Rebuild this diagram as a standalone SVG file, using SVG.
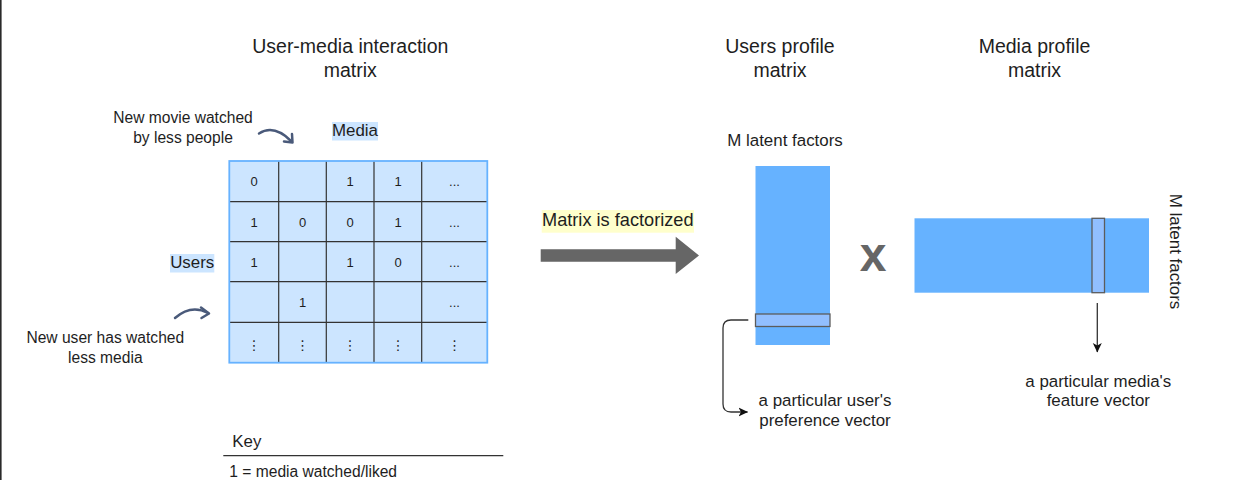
<svg xmlns="http://www.w3.org/2000/svg" width="1238" height="480" viewBox="0 0 1238 480">
<style>
text{font-family:"Liberation Sans",Arial,Helvetica,sans-serif;fill:#1e1e1e}
.title{font-size:19.5px;text-anchor:middle}
.note{font-size:15.6px;text-anchor:middle}
.ann{font-size:16.9px;text-anchor:middle}
.cell{font-size:13px;text-anchor:middle}
.vd{font-family:"DejaVu Sans",sans-serif;font-size:13.5px;text-anchor:middle}
.grid{stroke:#333;stroke-width:1.2;fill:none}
.hl{fill:#cce5ff}
.conn{stroke:#333;stroke-width:1.3;fill:none}
.sw{stroke:#4a5a7a;stroke-width:2.5;fill:none;stroke-linecap:round;stroke-linejoin:round}
.prof{fill:#66b2ff}
.bar{fill:#91bfff;stroke:#5c5c5c;stroke-width:1.3}
</style>
<defs>
<marker id="ah" markerWidth="10" markerHeight="10" refX="9" refY="5" orient="auto" markerUnits="userSpaceOnUse">
<path d="M0,0.5 L9.5,5 L0,9.5 L2.5,5 Z" fill="#111"/>
</marker>
</defs>
<rect x="0" y="0" width="1238" height="480" fill="#ffffff"/>
<rect x="0" y="0" width="1.6" height="480" fill="#2a2a2a"/>

<g id="title-interaction">
<text class="title" x="350.3" y="52.5">User-media interaction</text>
<text class="title" x="350.3" y="76.5">matrix</text>
</g>
<g id="title-users">
<text class="title" x="780" y="52.5">Users profile</text>
<text class="title" x="780" y="76.5">matrix</text>
</g>
<g id="title-media">
<text class="title" x="1034.5" y="52.5">Media profile</text>
<text class="title" x="1034.5" y="76.5">matrix</text>
</g>

<g id="note-movie">
<text class="note" x="183" y="122.5">New movie watched</text>
<text class="note" x="183" y="142.5">by less people</text>
</g>
<g id="note-user">
<text class="note" x="105.3" y="342.5">New user has watched</text>
<text class="note" x="105.3" y="362.5">less media</text>
</g>

<g id="label-media">
<rect class="hl" x="332" y="122" width="46" height="18.5"/>
<text class="ann" x="355" y="136">Media</text>
</g>
<g id="label-users">
<rect class="hl" x="170" y="254" width="44.3" height="18.5"/>
<text class="ann" x="192.2" y="268">Users</text>
</g>

<g id="interaction-matrix">
<rect x="229.3" y="161" width="258" height="201.7" fill="#cce5ff"/>
<path class="grid" d="M278.7,161V362.7M326.3,161V362.7M374,161V362.7M421.7,161V362.7M229.3,201.7H487.3M229.3,241.7H487.3M229.3,281.7H487.3M229.3,322.3H487.3"/>
<rect x="229.3" y="161" width="258" height="201.7" fill="none" stroke="#66b2ff" stroke-width="1.8"/>
<text class="cell" x="254" y="186">0</text>
<text class="cell" x="350" y="186">1</text>
<text class="cell" x="398" y="186">1</text>
<text class="cell" x="454.5" y="186">...</text>
<text class="cell" x="254" y="226.5">1</text>
<text class="cell" x="302.5" y="226.5">0</text>
<text class="cell" x="350" y="226.5">0</text>
<text class="cell" x="398" y="226.5">1</text>
<text class="cell" x="454.5" y="226.5">...</text>
<text class="cell" x="254" y="266.5">1</text>
<text class="cell" x="350" y="266.5">1</text>
<text class="cell" x="398" y="266.5">0</text>
<text class="cell" x="454.5" y="266.5">...</text>
<text class="cell" x="302.5" y="306.5">1</text>
<text class="cell" x="454.5" y="306.5">...</text>
<text class="vd" x="254" y="349.5">⋮</text>
<text class="vd" x="302.5" y="349.5">⋮</text>
<text class="vd" x="350" y="349.5">⋮</text>
<text class="vd" x="398" y="349.5">⋮</text>
<text class="vd" x="454.5" y="349.5">⋮</text>
</g>

<g id="key">
<text x="232.3" y="446.5" style="font-size:16.9px">Key</text>
<line x1="223.3" y1="455.7" x2="503.3" y2="455.7" stroke="#333" stroke-width="1.2"/>
<text x="229.3" y="477" style="font-size:15.6px">1 = media watched/liked</text>
</g>

<g id="label-factorized">
<rect x="541.7" y="210" width="152.3" height="22.7" fill="#ffffcc"/>
<text x="617.8" y="226" style="font-size:18.2px;text-anchor:middle">Matrix is factorized</text>
</g>

<g id="users-profile">
<text class="ann" x="785" y="146">M latent factors</text>
<rect class="prof" x="755.5" y="166" width="74.5" height="179"/>
<rect class="bar" x="755.5" y="314" width="74.5" height="12.5"/>
</g>

<g id="times">
<text x="873" y="270.7" style="font-size:48px;font-weight:bold;text-anchor:middle;fill:#666">x</text>
</g>

<g id="media-profile">
<rect class="prof" x="914.5" y="218.3" width="234.5" height="74.4"/>
<rect class="bar" x="1092" y="218.3" width="12.5" height="74.4"/>
<text class="ann" transform="translate(1169.5,251.5) rotate(90)" x="0" y="0">M latent factors</text>
</g>

<g id="note-user-vector">
<text class="ann" x="825" y="406">a particular user's</text>
<text class="ann" x="825" y="426">preference vector</text>
</g>
<g id="note-media-vector">
<text class="ann" x="1098.3" y="386.5">a particular media's</text>
<text class="ann" x="1098.3" y="406">feature vector</text>
</g>

<g id="connectors">
<path d="M540.7,249.3H675.7V236.7L699,255.5L675.7,274V261.7H540.7Z" fill="#666"/>
<path class="conn" d="M748.3,320H731Q723,320 723,328V404Q723,412 731,412H747.5" marker-end="url(#ah)"/>
<path class="conn" d="M1097.3,303V352" marker-end="url(#ah)"/>
<path class="sw" d="M259,133.5Q274,124 291,141"/>
<path class="sw" d="M284,141.5L292.5,142.5L292,134"/>
<path class="sw" d="M175,318Q191,304 208,313"/>
<path class="sw" d="M201,307.5L209,313.5L201.5,318"/>
</g>
</svg>
